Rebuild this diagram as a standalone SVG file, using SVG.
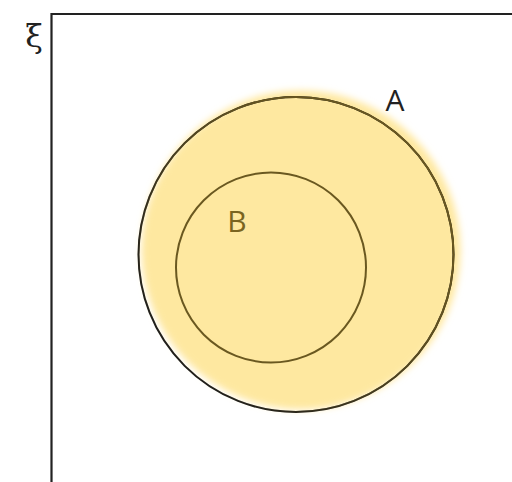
<svg xmlns="http://www.w3.org/2000/svg" width="512" height="482" viewBox="0 0 512 482">
<style>
.lbl{font-family:"Open Sans","Liberation Sans",sans-serif;text-anchor:middle}
</style>
<defs>
<filter id="soft" x="-20%" y="-20%" width="140%" height="140%"><feGaussianBlur stdDeviation="3.5"/></filter>
<mask id="fillMask"><circle cx="301" cy="250" r="159.5" fill="#fff" filter="url(#soft)"/></mask>
</defs>
<rect width="512" height="482" fill="#fff"/>
<g id="universe">
<path d="M51.5 482 V14 H512" fill="none" stroke="#222" stroke-width="2.2"/>
<text x="34" y="47" font-family="DejaVu Serif, Liberation Serif, serif" font-size="32" text-anchor="middle" fill="#222">ξ</text>
</g>
<g id="setA">
<circle cx="301" cy="250" r="159.5" fill="#fee8a0" filter="url(#soft)"/>
<circle cx="296" cy="254.5" r="157.5" fill="none" stroke="#1a1a1a" stroke-width="2"/>
<circle cx="296" cy="254.5" r="157.5" fill="none" stroke="#6a5820" stroke-width="2" mask="url(#fillMask)"/>
<text class="lbl" x="395" y="111" font-size="30" fill="#222">A</text>
</g>
<g id="setB">
<circle cx="271" cy="267.5" r="95" fill="none" stroke="#6a5820" stroke-width="2"/>
<text class="lbl" x="237" y="232" font-size="30" fill="#7a6420">B</text>
</g>
</svg>
